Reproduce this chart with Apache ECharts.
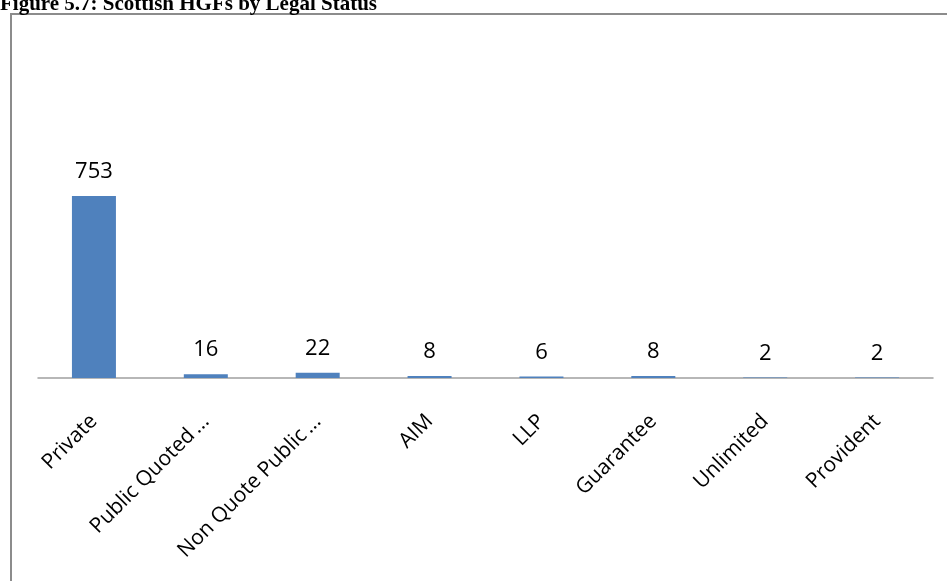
<!DOCTYPE html>
<html>
<head>
<meta charset="utf-8">
<script src="https://cdn.jsdelivr.net/npm/echarts@6/dist/echarts.min.js"></script>
<style>
  html, body { margin: 0; padding: 0; background: #ffffff; }
  #chart { width: 947px; height: 581px; }
</style>
</head>
<body>
<div id="chart"></div>
<script>
// Scottish high-growth firms, counted by legal status
const categories = ['Private', 'Public Quoted Company', 'Non Quote Public Company', 'AIM', 'LLP', 'Guarantee', 'Unlimited', 'Provident'];
const firmCounts = [753, 16, 22, 8, 6, 8, 2, 2];
const titleText = 'Figure 5.7: Scottish HGFs by Legal Status';

// Long names are cut short with an ellipsis on the axis
function shortName(name) {
  if (name === 'Public Quoted Company') return 'Public Quoted\u2009...';
  if (name === 'Non Quote Public Company') return 'Non Quote Public\u2009...';
  return name;
}

const chart = echarts.init(document.getElementById('chart'), null, { renderer: 'canvas' });

const axisBottom = 378;
const yMax = 800;
const pxPerUnit = 182 / 753;
const gridHeight = yMax * pxPerUnit;

chart.setOption({
  animation: false,
  backgroundColor: '#ffffff',
  graphic: [
    {
      type: 'rect',
      shape: { x: 11, y: 14, width: 1200, height: 1200 },
      style: { fill: 'none', stroke: '#8c8c8c', lineWidth: 2 },
      silent: true
    },
    {
      type: 'text',
      left: 0,
      top: -6,
      style: {
        text: titleText,
        font: 'bold 21px "Liberation Serif", "Times New Roman", serif',
        fill: '#000000'
      },
      silent: true
    }
  ],
  grid: {
    left: 38,
    right: 14,
    top: axisBottom - gridHeight,
    height: gridHeight,
    containLabel: false
  },
  xAxis: {
    type: 'category',
    data: categories,
    axisLine: { show: true, lineStyle: { color: '#a0a0a0', width: 1.5 } },
    axisTick: { show: false },
    axisLabel: {
      interval: 0,
      rotate: 45,
      margin: 40,
      color: '#000000',
      fontFamily: '"Open Sans", sans-serif',
      fontSize: 21,
      formatter: shortName
    }
  },
  yAxis: {
    type: 'value',
    min: 0,
    max: yMax,
    show: false,
    splitLine: { show: false }
  },
  series: [{
    type: 'bar',
    data: firmCounts,
    barWidth: 44,
    itemStyle: { color: '#4f81bd' },
    label: {
      show: true,
      position: 'top',
      distance: 13,
      color: '#000000',
      fontFamily: '"Open Sans", sans-serif',
      fontSize: 22
    }
  }]
});
</script>
</body>
</html>
